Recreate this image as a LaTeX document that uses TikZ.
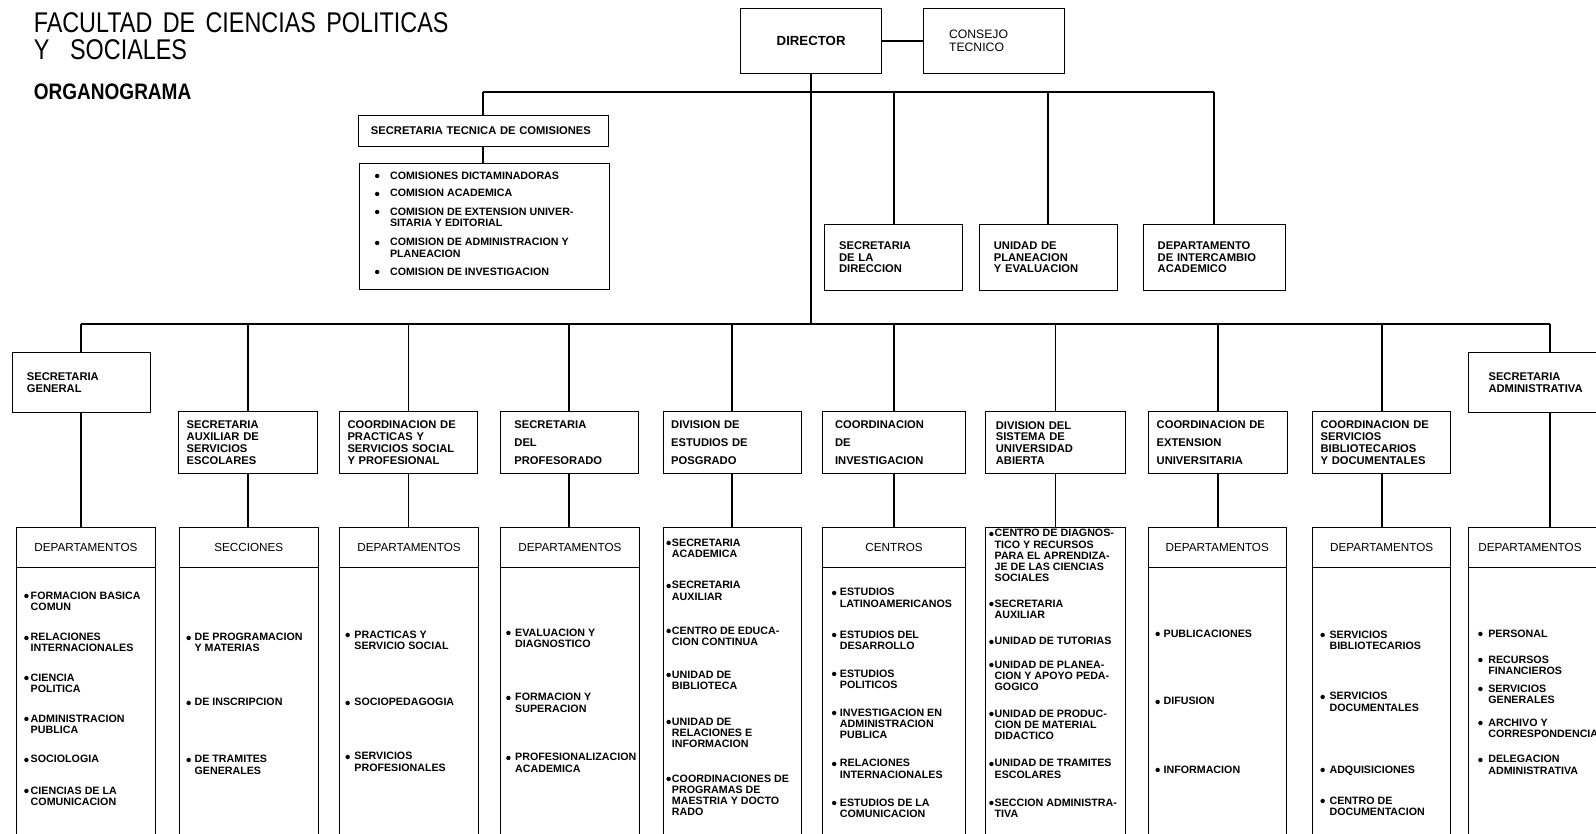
\documentclass[tikz,border=0pt]{standalone}
\usepackage{fontspec}
\setmainfont{Liberation Sans}
\newfontfamily\titlefont[FakeStretch=0.82,WordSpace=1.6]{Liberation Sans}
\newfontfamily\orgfont[FakeStretch=0.85]{Liberation Sans}
\usepackage{tikz}

\newcommand\itemfont{\fontsize{10.5}{11}\selectfont\bfseries}
\newcommand\bul[1][2.5pt]{\llap{\raisebox{-2.2pt}{\fontsize{15}{11}\selectfont\textbullet}\hspace{#1}}}

\begin{document}
\begin{tikzpicture}[x=1pt,y=-1pt,
  conn/.style={line width=1.8pt},
  box/.style={draw, line width=0.8pt, inner sep=0pt, anchor=north west},
  unitbox/.style={box, inner xsep=8pt, text width=120pt, minimum height=61pt, align=left, font=\fontsize{11}{11.5}\selectfont\bfseries},
  topbox/.style={unitbox, inner xsep=14pt, text width=107pt, minimum height=65pt},
  headbox/.style={box, minimum height=39pt, font=\fontsize{11.5}{12}\selectfont},
  listbox/.style={box, minimum height=280pt},
  itm/.style={anchor=north west, inner sep=0pt, align=left, font=\itemfont}]
\useasboundingbox (0,0) rectangle (1568,819);
\clip (0,0) rectangle (1568,819);

\node[anchor=base west, inner sep=0pt, font=\titlefont\fontsize{28}{30}\selectfont] (tit1) at (33,32) {FACULTAD DE CIENCIAS POLITICAS};
\node[anchor=base west, inner sep=0pt, font=\titlefont\fontsize{28}{30}\selectfont] (tit2) at (33,58) {Y\ \ SOCIALES};
\node[anchor=base west, inner sep=0pt, font=\orgfont\bfseries\fontsize{22}{24}\selectfont] (orgn) at (33,98) {ORGANOGRAMA};

% direccion
\node[box, minimum width=139pt, minimum height=64pt, font=\fontsize{13}{14}\selectfont\bfseries] (dir) at (727,8) {DIRECTOR};
\node[box, minimum height=64pt, inner xsep=25pt, text width=88pt, align=left, font=\fontsize{12}{13}\selectfont] (cons) at (907,8) {CONSEJO\\TECNICO};

\node[box, minimum height=30pt, inner xsep=12pt, text width=221pt, align=left, font=\fontsize{11}{12}\selectfont\bfseries] (sectec) at (352,113) {SECRETARIA TECNICA DE COMISIONES};
\node[box, minimum width=245pt, minimum height=124pt] (comlist) at (353,160) {};
\foreach \yy/\tx [count=\k] in {173/{COMISIONES DICTAMINADORAS}, 190/{COMISION ACADEMICA},
    208/{COMISION DE EXTENSION UNIVER-\\SITARIA Y EDITORIAL}, 238/{COMISION DE ADMINISTRACION Y\\PLANEACION},
    267/{COMISION DE INVESTIGACION}}
  \node[itm] (com\k) at (383,\yy-4) {\bul[10pt]\tx};

\node[topbox] (secdir) at (810,220) {SECRETARIA\\DE LA\\DIRECCION};
\node[topbox] (uplan) at (962,220) {UNIDAD DE\\PLANEACION\\Y EVALUACION};
\node[topbox, text width=111pt] (dinter) at (1123,220) {DEPARTAMENTO\\DE INTERCAMBIO\\ACADEMICO};

% segundo nivel
\node[topbox, minimum height=59pt] (secgen) at (12,346) {SECRETARIA\\GENERAL};
\node[unitbox] (auxesc) at (175,404) {SECRETARIA\\AUXILIAR DE\\SERVICIOS\\ESCOLARES};
\node[unitbox] (coprac) at (333,404) {COORDINACION DE\\PRACTICAS Y\\SERVICIOS SOCIAL\\Y PROFESIONAL};
\node[unitbox, inner xsep=14pt, text width=108pt] (secprof) at (491,404) {SECRETARIA\\[6pt]DEL\\[6pt]PROFESORADO};
\node[unitbox] (divpos) at (651,404) {DIVISION DE\\[6pt]ESTUDIOS DE\\[6pt]POSGRADO};
\node[unitbox, inner xsep=12pt, text width=116pt] (coinv) at (808,404) {COORDINACION\\[6pt]DE\\[6pt]INVESTIGACION};
\node[unitbox, inner xsep=10pt, text width=117pt] (divsua) at (968,404) {DIVISION DEL\\SISTEMA DE\\UNIVERSIDAD\\ABIERTA};
\node[unitbox] (coext) at (1128,404) {COORDINACION DE\\[6pt]EXTENSION\\[6pt]UNIVERSITARIA};
\node[unitbox] (cobib) at (1289,404) {COORDINACION DE\\SERVICIOS\\BIBLIOTECARIOS\\Y DOCUMENTALES};
\node[unitbox, inner xsep=20pt, text width=120pt, minimum height=59pt] (secadm) at (1442,346) {SECRETARIA\\ADMINISTRATIVA};

% tercer nivel
\foreach \nm/\xx/\ww/\hd in {c1/16/136/DEPARTAMENTOS, c2/176/136/SECCIONES, c3/333/137/DEPARTAMENTOS,
    c4/491/137/DEPARTAMENTOS, c6/808/140/CENTROS, c8/1128/135/DEPARTAMENTOS, c9/1289/136/DEPARTAMENTOS}{
  \node[headbox, minimum width=\ww] (\nm h) at (\xx,518) {\hd};
  \node[listbox, minimum width=\ww] (\nm) at (\xx,557) {};
}
\node[headbox, inner xsep=10pt, text width=140pt, align=left] (c10h) at (1442,518) {DEPARTAMENTOS};
\node[listbox, minimum width=160] (c10) at (1442,557) {};
\foreach \nm/\xx/\ww in {c5/651/136, c7/968/137}
  \node[box, minimum width=\ww, minimum height=319] (\nm) at (\xx,518) {};

\foreach \yy/\tx [count=\k] in {585/{FORMACION BASICA\\COMUN}, 626/{RELACIONES\\INTERNACIONALES},
    666/{CIENCIA\\POLITICA}, 706/{ADMINISTRACION\\PUBLICA}, 746/{SOCIOLOGIA}, 777/{CIENCIAS DE LA\\COMUNICACION}}
  \node[itm] (c1-\k) at (30,\yy-4) {\bul[1.5pt]\tx};
\foreach \yy/\tx [count=\k] in {626/{DE PROGRAMACION\\Y MATERIAS}, 690/{DE INSCRIPCION}, 746/{DE TRAMITES\\GENERALES}}
  \node[itm] (c2-\k) at (191,\yy-4) {\bul[3pt]\tx};
\foreach \yy/\tx [count=\k] in {624/{PRACTICAS Y\\SERVICIO SOCIAL}, 690/{SOCIOPEDAGOGIA}, 743/{SERVICIOS\\PROFESIONALES}}
  \node[itm] (c3-\k) at (348,\yy-4) {\bul[4pt]\tx};
\foreach \yy/\tx [count=\k] in {622/{EVALUACION Y\\DIAGNOSTICO}, 685/{FORMACION Y\\SUPERACION}, 744/{PROFESIONALIZACION\\ACADEMICA}}
  \node[itm] (c4-\k) at (506,\yy-4) {\bul[4pt]\tx};
\foreach \yy/\tx [count=\k] in {533/{SECRETARIA\\ACADEMICA}, 575/{SECRETARIA\\AUXILIAR}, 620/{CENTRO DE EDUCA-\\CION CONTINUA},
    663/{UNIDAD DE\\BIBLIOTECA}, 709/{UNIDAD DE\\RELACIONES E\\INFORMACION}, 765/{COORDINACIONES DE\\PROGRAMAS DE\\MAESTRIA Y DOCTO\\RADO}}
  \node[itm] (c5-\k) at (660,\yy-4) {\bul[0.5pt]\tx};
\foreach \yy/\tx [count=\k] in {582/{ESTUDIOS\\LATINOAMERICANOS}, 624/{ESTUDIOS DEL\\DESARROLLO}, 662/{ESTUDIOS\\POLITICOS},
    700/{INVESTIGACION EN\\ADMINISTRACION\\PUBLICA}, 750/{RELACIONES\\INTERNACIONALES}, 789/{ESTUDIOS DE LA\\COMUNICACION}}
  \node[itm] (c6-\k) at (825,\yy-4) {\bul[3pt]\tx};
\foreach \yy/\tx [count=\k] in {524/{CENTRO DE DIAGNOS-\\TICO Y RECURSOS\\PARA EL APRENDIZA-\\JE DE LAS CIENCIAS\\SOCIALES},
    593/{SECRETARIA\\AUXILIAR}, 630/{UNIDAD DE TUTORIAS}, 653/{UNIDAD DE PLANEA-\\CION Y APOYO PEDA-\\GOGICO},
    701/{UNIDAD DE PRODUC-\\CION DE MATERIAL\\DIDACTICO}, 750/{UNIDAD DE TRAMITES\\ESCOLARES}, 789/{SECCION ADMINISTRA-\\TIVA}}
  \node[itm] (c7-\k) at (977,\yy-4) {\bul[0.5pt]\tx};
\foreach \yy/\tx [count=\k] in {623/{PUBLICACIONES}, 689/{DIFUSION}, 756/{INFORMACION}}
  \node[itm] (c8-\k) at (1143,\yy-4) {\bul[3pt]\tx};
\foreach \yy/\tx [count=\k] in {624/{SERVICIOS\\BIBLIOTECARIOS}, 684/{SERVICIOS\\DOCUMENTALES}, 756/{ADQUISICIONES}, 787/{CENTRO DE\\DOCUMENTACION}}
  \node[itm] (c9-\k) at (1306,\yy-4) {\bul[4pt]\tx};
\foreach \yy/\tx [count=\k] in {623/{PERSONAL}, 648/{RECURSOS\\FINANCIEROS}, 677/{SERVICIOS\\GENERALES},
    710/{ARCHIVO Y\\CORRESPONDENCIA}, 746/{DELEGACION\\ADMINISTRATIVA}}
  \node[itm] (c10-\k) at (1462,\yy-4) {\bul[5pt]\tx};

% lineas
\coordinate (topbus) at (0,90);
\coordinate (lowbus) at (0,318);
\draw[conn] (dir.east) -- (cons.west);
\draw[conn] (dir.south) -- (dir.south |- lowbus);
\draw[conn] (sectec.north |- topbus) -- (dinter.north |- topbus);
\foreach \nm in {sectec, secdir, uplan, dinter}
  \draw[conn] (\nm.north |- topbus) -- (\nm.north);
\draw[conn] (sectec.south) -- (sectec.south |- comlist.north);
\draw[conn] (secgen.north |- lowbus) -- (secadm.north |- lowbus);
\foreach \nm in {secgen, auxesc, coprac, secprof, divpos, coinv, divsua, coext, cobib, secadm}
  \draw[conn] (\nm.north |- lowbus) -- (\nm.north);
\foreach \ua/\ub in {secgen/c1h, auxesc/c2h, coprac/c3h, secprof/c4h, divpos/c5, coinv/c6h, divsua/c7, coext/c8h, cobib/c9h, secadm/c10h}
  \draw[conn] (\ua.south) -- (\ua.south |- \ub.north);
\end{tikzpicture}
\end{document}
